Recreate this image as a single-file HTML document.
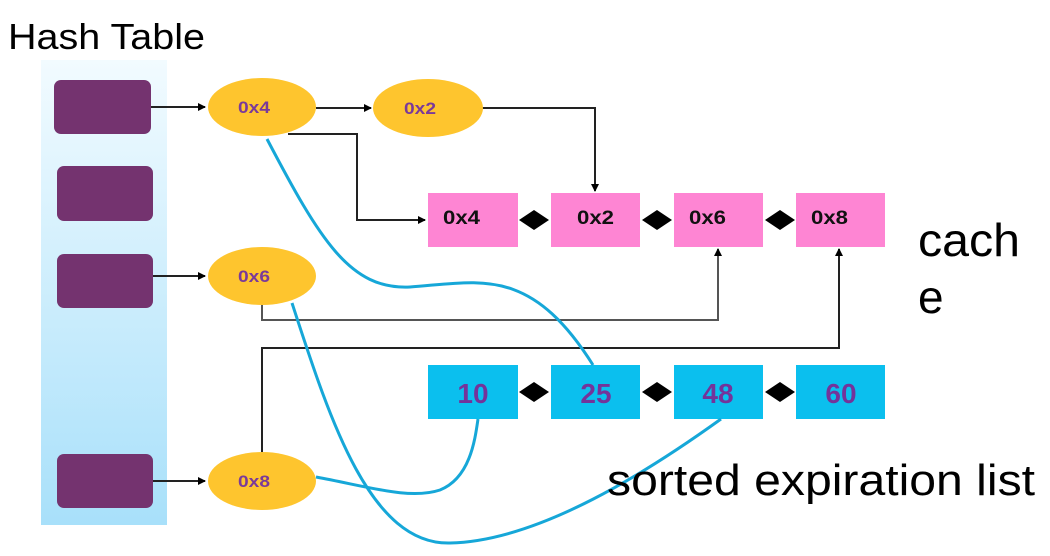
<!DOCTYPE html>
<html><head><meta charset="utf-8"><style>
html,body{margin:0;padding:0;background:#fff;width:1050px;height:556px;overflow:hidden}
svg{display:block}
text{font-family:"Liberation Sans",sans-serif}
</style></head><body>
<svg width="1050" height="556" viewBox="0 0 1050 556" xmlns="http://www.w3.org/2000/svg">
<defs>
<linearGradient id="g" x1="0" y1="0" x2="0" y2="1">
<stop offset="0" stop-color="#f2fbff"/><stop offset="1" stop-color="#a8e0fa"/>
</linearGradient>
<marker id="a" markerWidth="8" markerHeight="8" refX="7" refY="4" orient="auto" markerUnits="userSpaceOnUse">
<path d="M0,0 L8,4 L0,8 z" fill="#000"/></marker>
</defs>
<text x="8" y="49" font-size="36" fill="#000" textLength="197" lengthAdjust="spacingAndGlyphs">Hash Table</text>
<rect x="41" y="60" width="126" height="465" fill="url(#g)"/>
<rect x="54" y="80" width="97" height="54" rx="7" fill="#74336f"/>
<rect x="57" y="166" width="96" height="55" rx="7" fill="#74336f"/>
<rect x="57" y="254" width="96" height="54" rx="7" fill="#74336f"/>
<rect x="57" y="454" width="96" height="54" rx="7" fill="#74336f"/>

<g stroke="#222" stroke-width="2" fill="none">
<line x1="151" y1="107" x2="205" y2="107" marker-end="url(#a)"/>
<line x1="153" y1="276" x2="205" y2="276" marker-end="url(#a)"/>
<line x1="153" y1="481" x2="205" y2="481" marker-end="url(#a)"/>
<line x1="316" y1="108" x2="371" y2="108" marker-end="url(#a)"/>
<polyline points="482,108 595,108 595,191" marker-end="url(#a)"/>
<polyline points="288,134 357,134 357,220 425,220" marker-end="url(#a)"/>
<polyline points="262,305 262,320 718,320 718,249" stroke="#555" marker-end="url(#a)"/>
<polyline points="262,452 262,348 839,348 839,249" marker-end="url(#a)"/>
</g>

<g fill="#fec52e">
<ellipse cx="262" cy="107" rx="54" ry="29"/>
<ellipse cx="428" cy="108" rx="55" ry="29"/>
<ellipse cx="262" cy="276" rx="54" ry="29"/>
<ellipse cx="262" cy="481" rx="54" ry="29"/>
</g>
<g font-size="17" font-weight="bold" fill="#7a3a9a" text-anchor="middle">
<text x="254" y="113" textLength="32" lengthAdjust="spacingAndGlyphs">0x4</text>
<text x="420" y="114" textLength="32" lengthAdjust="spacingAndGlyphs">0x2</text>
<text x="254" y="282" textLength="32" lengthAdjust="spacingAndGlyphs">0x6</text>
<text x="254" y="487" textLength="32" lengthAdjust="spacingAndGlyphs">0x8</text>
</g>

<g fill="#fe85d3">
<rect x="428" y="193" width="90" height="54"/>
<rect x="551" y="193" width="89" height="54"/>
<rect x="674" y="193" width="89" height="54"/>
<rect x="796" y="193" width="89" height="54"/>
</g>
<g font-size="19" font-weight="bold" fill="#111">
<text x="443" y="224" textLength="37" lengthAdjust="spacingAndGlyphs">0x4</text>
<text x="577" y="224" textLength="37" lengthAdjust="spacingAndGlyphs">0x2</text>
<text x="689" y="224" textLength="37" lengthAdjust="spacingAndGlyphs">0x6</text>
<text x="811" y="224" textLength="37" lengthAdjust="spacingAndGlyphs">0x8</text>
</g>
<g fill="#0bbfee">
<rect x="428" y="365" width="90" height="54"/>
<rect x="551" y="365" width="89" height="54"/>
<rect x="674" y="365" width="89" height="54"/>
<rect x="796" y="365" width="89" height="54"/>
</g>
<g font-size="28" font-weight="bold" fill="#74339a" text-anchor="middle">
<text x="473" y="403">10</text>
<text x="596" y="403">25</text>
<text x="718" y="403">48</text>
<text x="841" y="403">60</text>
</g>
<g fill="#000">
<path d="M519,220 L534,210 L549,220 L534,230z"/>
<path d="M642,220 L657,210 L672,220 L657,230z"/>
<path d="M765,220 L780,210 L795,220 L780,230z"/>
<path d="M519,392 L534,382 L549,392 L534,402z"/>
<path d="M642,392 L657,382 L672,392 L657,402z"/>
<path d="M765,392 L780,382 L795,392 L780,402z"/>
</g>

<g stroke="#16a7d8" stroke-width="3" fill="none">
<path d="M267,139 C320,240 350,290 410,287 C480,282 530,265 593,365"/>
<path d="M292,303 C330,420 370,545 450,543 C540,541 650,470 721,419"/>
<path d="M316,477 C370,487 410,500 440,490 C470,478 475,440 478,419"/>
</g>

<text x="918" y="256" font-size="46" fill="#000" textLength="102" lengthAdjust="spacingAndGlyphs">cach</text>
<text x="918" y="313" font-size="46" fill="#000">e</text>
<text x="607" y="495" font-size="44" fill="#000" textLength="428" lengthAdjust="spacingAndGlyphs">sorted expiration list</text>
</svg>
</body></html>
